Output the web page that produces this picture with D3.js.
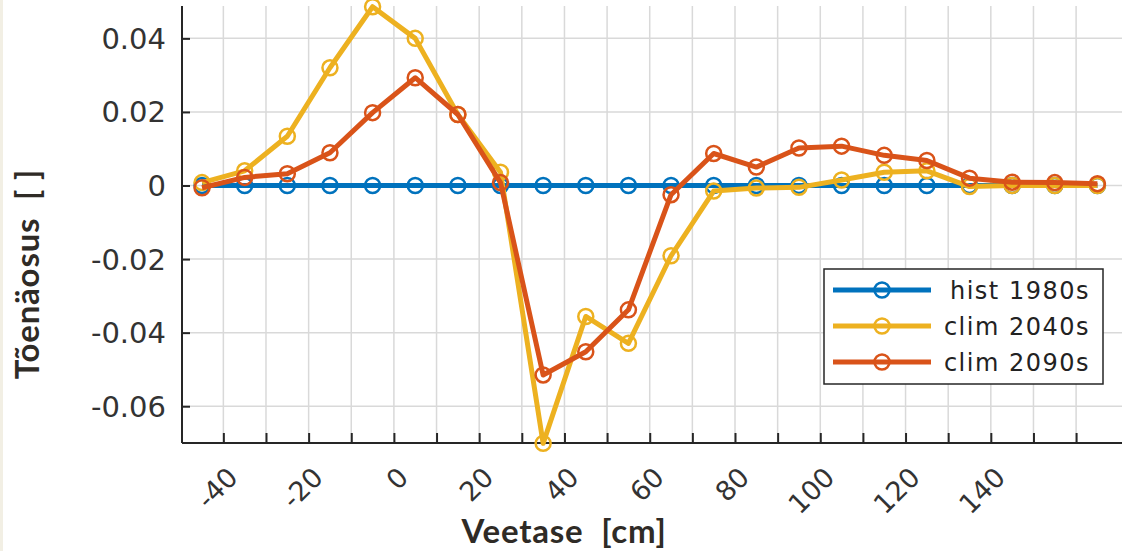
<!DOCTYPE html>
<html>
<head>
<meta charset="utf-8">
<script src="https://cdn.jsdelivr.net/npm/d3@7"></script>
<style>
  body { margin: 0; background: #fff; }
  svg { display: block; }
</style>
</head>
<body>
<svg id="chart" width="1122" height="551"></svg>
<script>
// water level bins (cm)
const levels = [-45, -35, -25, -15, -5, 5, 15, 25, 35, 45, 55, 65, 75, 85, 95, 105, 115, 125, 135, 145, 155, 165];

const hist1980 = [0, 0, 0, 0, 0, 0, 0, 0, 0, 0, 0, 0, 0, 0, 0, 0, 0, 0, 0, 0, 0, 0];
const clim2040 = [0.0008, 0.004, 0.0134, 0.032, 0.0486, 0.040, 0.0193, 0.0036, -0.0701, -0.0356, -0.0429, -0.0191,
  -0.0015, -0.0007, -0.0005, 0.0015, 0.0036, 0.004, -0.0003, 0, 0, 0];
const clim2090 = [-0.0006, 0.0022, 0.0032, 0.0089, 0.0198, 0.0293, 0.0193, 0.0008, -0.0515, -0.0452, -0.0338, -0.0025,
  0.0087, 0.005, 0.0102, 0.0107, 0.0082, 0.0068, 0.002, 0.0009, 0.0008, 0.0005];

const seriesNames = ["hist 1980s", "clim 2040s", "clim 2090s"];
const seriesColors = ["#0072BD", "#EDB120", "#D95319"];

const xTicks = [-40, -30, -20, -10, 0, 10, 20, 30, 40, 50, 60, 70, 80, 90, 100, 110, 120, 130, 140, 150, 160];
const xTickLabels = [-40, -20, 0, 20, 40, 60, 80, 100, 120, 140];
const yTicks = [-0.06, -0.04, -0.02, 0, 0.02, 0.04];

const svg = d3.select("#chart");
const W = 1122, H = 551;
const plot = { left: 182, right: 1123, top: 6, bottom: 443 };

const x = d3.scaleLinear().domain([-49.7, 171]).range([plot.left, plot.right]);
const y = d3.scaleLinear().domain([-0.07, 0.0488]).range([plot.bottom, plot.top]);

// thin cream strip at left edge of the original slide
svg.append("rect").attr("x", 0).attr("y", 0).attr("width", 3).attr("height", H).attr("fill", "#f2efe4");

// grid
const grid = svg.append("g").attr("stroke", "#d9d9d9").attr("stroke-width", 1.5);
grid.selectAll("line.vx").data(xTicks).enter().append("line")
  .attr("x1", d => x(d)).attr("x2", d => x(d))
  .attr("y1", plot.top).attr("y2", plot.bottom);
grid.selectAll("line.hy").data(yTicks).enter().append("line")
  .attr("x1", plot.left).attr("x2", plot.right)
  .attr("y1", d => y(d)).attr("y2", d => y(d));

// axes, ticks pointing inward
const xAxis = svg.append("g")
  .attr("transform", "translate(0," + plot.bottom + ")")
  .call(d3.axisTop(x).tickValues(xTicks).tickSize(10).tickFormat(""));
const yAxis = svg.append("g")
  .attr("transform", "translate(" + plot.left + ",0)")
  .call(d3.axisRight(y).tickValues(yTicks).tickSize(8).tickFormat(""));
[xAxis, yAxis].forEach(a => {
  a.select(".domain").attr("stroke", "#262626").attr("stroke-width", 2);
  a.selectAll(".tick line").attr("stroke", "#262626").attr("stroke-width", 2);
});
yAxis.select(".domain").attr("d", "M0," + plot.top + "V" + plot.bottom);
xAxis.select(".domain").attr("d", "M" + plot.left + ",0H" + plot.right);

// tick labels
svg.append("g").selectAll("text").data(yTicks).enter().append("text")
  .attr("x", 166).attr("y", d => y(d))
  .attr("dy", "0.36em")
  .attr("text-anchor", "end")
  .attr("font-family", "DejaVu Sans")
  .attr("font-size", 29)
  .attr("fill", "#333")
  .text(d => d === 0 ? "0" : d3.format(".2f")(d).replace("−", "-"));

svg.append("g").selectAll("text").data(xTickLabels).enter().append("text")
  .attr("transform", d => "translate(" + (x(d) + 16) + ",479) rotate(-45)")
  .attr("text-anchor", "end")
  .attr("font-family", "DejaVu Sans")
  .attr("font-size", 27)
  .attr("fill", "#333")
  .text(d => String(d));

// axis titles
svg.append("text")
  .attr("x", 564).attr("y", 543)
  .attr("text-anchor", "middle")
  .attr("font-family", "Lato, 'Open Sans', sans-serif")
  .attr("font-weight", "bold")
  .attr("font-size", 33)
  .attr("letter-spacing", 0.8)
  .attr("fill", "#2f2b26")
  .attr("xml:space", "preserve")
  .text("Veetase  [cm]");

svg.append("text")
  .attr("transform", "translate(39,274) rotate(-90)")
  .attr("text-anchor", "middle")
  .attr("font-family", "Lato, 'Open Sans', sans-serif")
  .attr("font-weight", "bold")
  .attr("font-size", 33)
  .attr("letter-spacing", 0.8)
  .attr("fill", "#2f2b26")
  .attr("xml:space", "preserve")
  .text("Tõenäosus  [ ]");

// series
const allSeries = [hist1980, clim2040, clim2090];
const line = d3.line().x(d => x(d[0])).y(d => y(d[1]));
svg.append("clipPath").attr("id", "plotclip").append("rect")
  .attr("x", plot.left).attr("y", 0).attr("width", W - plot.left).attr("height", plot.bottom + 12);

allSeries.forEach((vals, i) => {
  const pts = levels.map((lv, j) => [lv, vals[j]]);
  const g = svg.append("g").attr("clip-path", "url(#plotclip)");
  g.append("path")
    .attr("d", line(pts))
    .attr("fill", "none")
    .attr("stroke", seriesColors[i])
    .attr("stroke-width", 5)
    .attr("stroke-linejoin", "round");
  g.selectAll("circle").data(pts).enter().append("circle")
    .attr("cx", d => x(d[0])).attr("cy", d => y(d[1]))
    .attr("r", 7.5)
    .attr("fill", "none")
    .attr("stroke", seriesColors[i])
    .attr("stroke-width", 2.5);
});

// legend
const leg = svg.append("g");
leg.append("rect")
  .attr("x", 824).attr("y", 269).attr("width", 279).attr("height", 115)
  .attr("fill", "#fff").attr("stroke", "#262626").attr("stroke-width", 1.5);
seriesNames.forEach((name, i) => {
  const ly = 290 + i * 36;
  leg.append("line")
    .attr("x1", 833).attr("x2", 931).attr("y1", ly).attr("y2", ly)
    .attr("stroke", seriesColors[i]).attr("stroke-width", 5);
  leg.append("circle")
    .attr("cx", 882).attr("cy", ly).attr("r", 7.5)
    .attr("fill", "none").attr("stroke", seriesColors[i]).attr("stroke-width", 2.5);
  leg.append("text")
    .attr("x", 1090).attr("y", ly).attr("dy", "0.36em")
    .attr("text-anchor", "end")
    .attr("font-family", "DejaVu Sans")
    .attr("font-size", 24)
    .attr("letter-spacing", 1.5)
    .attr("fill", "#222")
    .text(name);
});
</script>
</body>
</html>
